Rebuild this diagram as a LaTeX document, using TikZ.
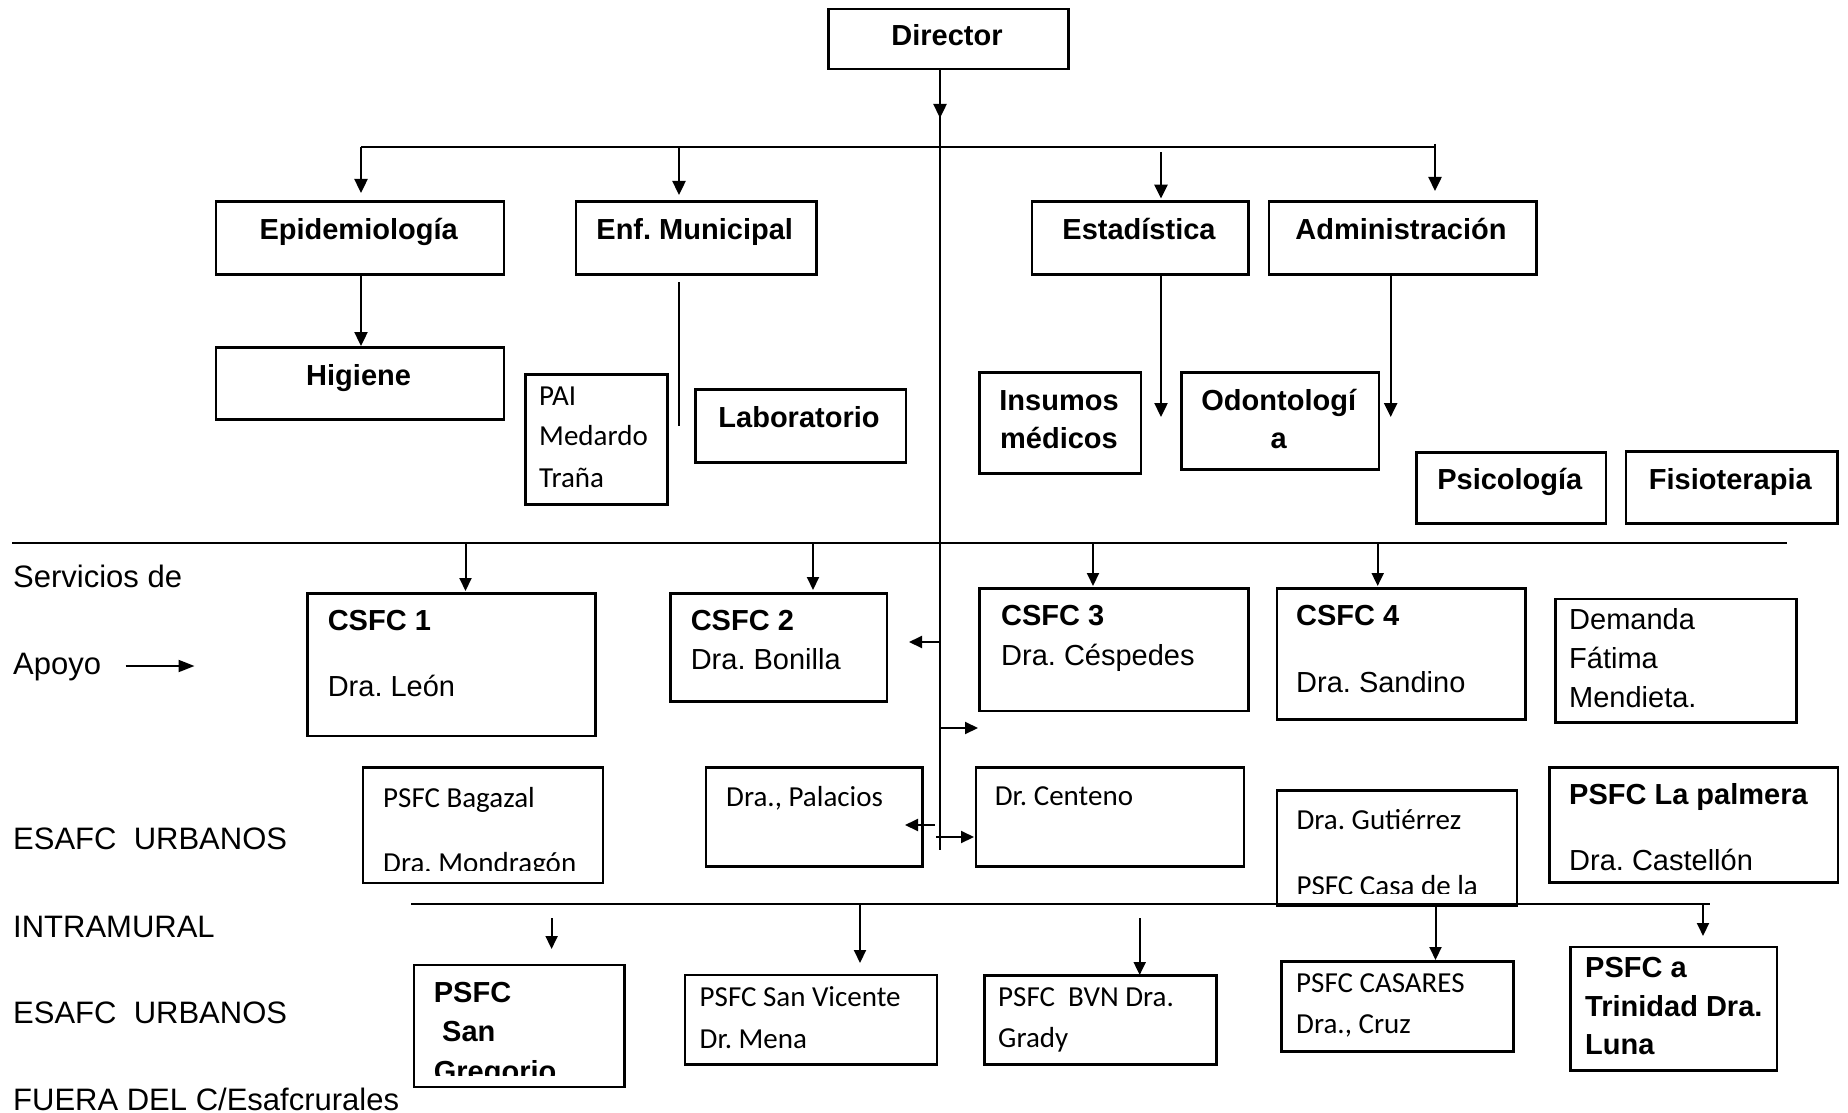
\documentclass[tikz,border=0pt]{standalone}
\usepackage{fontspec}
\setmainfont{Liberation Sans}
\newfontfamily\calibfont{Carlito}
\usetikzlibrary{arrows.meta}
\frenchspacing
\newcommand\mybox[5]{\node[box,minimum width={#4pt-#2pt},minimum height={#5pt-#3pt}] (#1) at (#2,#3) {};}
\begin{document}
\begin{tikzpicture}[x=1pt,y=-1pt,
  box/.style={draw, line width=2.5pt, inner sep=0pt, anchor=north west},
  t/.style={inner sep=0pt, anchor=base west, font=\fontsize{29}{34}\selectfont},
  tb/.style={inner sep=0pt, anchor=base west, font=\fontsize{29}{34}\selectfont\bfseries},
  tcb/.style={inner sep=0pt, anchor=base, font=\fontsize{29}{34}\selectfont\bfseries},
  tk/.style={inner sep=0pt, anchor=base west, font=\fontsize{29}{34}\selectfont\calibfont},
  lab/.style={inner sep=0pt, anchor=base west, font=\fontsize{31}{36}\selectfont},
  ln/.style={line width=2.4pt},
  arr/.style={line width=2.4pt, -{Triangle[length=14pt,width=13pt]}},
  tarr/.style={line width=2pt, -{Triangle[length=13pt,width=12pt]}}]
\useasboundingbox[fill=white] (0,0) rectangle (1848,1113);

% boxes
\mybox{director}{827}{8}{1067}{68}
\mybox{epi}{214.5}{200}{502.7}{273}
\mybox{enf}{574.5}{200}{815}{273}
\mybox{esta}{1030.7}{200}{1247}{273}
\mybox{admin}{1267.5}{200}{1535}{273}
\mybox{hig}{214.5}{346}{502.7}{418}
\mybox{pai}{524}{373}{666}{503}
\mybox{lab}{694}{388}{904.5}{461}
\mybox{ins}{978}{371}{1139.7}{472}
\mybox{odo}{1180}{371}{1377.7}{468}
\mybox{psi}{1415}{451}{1604.6}{522}
\mybox{fis}{1624.6}{450}{1836}{522}
\mybox{csfcA}{306}{592}{594}{734.5}
\mybox{csfcB}{669}{592}{885.7}{700}
\mybox{csfcC}{978}{587}{1247}{709.6}
\mybox{csfcD}{1275.8}{587}{1524}{718}
\mybox{dem}{1554}{597.7}{1795}{721}
\mybox{bag}{361.8}{766}{601.6}{881.7}
\mybox{pala}{704.8}{766}{921}{865}
\mybox{cen}{974.7}{766}{1242.8}{865}
\mybox{gut}{1275.8}{789}{1515.6}{904}
\mybox{palm}{1548}{766}{1836.8}{881}
\mybox{sg}{412.5}{963.6}{623}{1085.7}
\mybox{sv}{683.6}{973.8}{935.8}{1063.4}
\mybox{bvn}{983}{974}{1215}{1063}
\mybox{cas}{1280}{960}{1512}{1050}
\mybox{tri}{1569}{945.7}{1775.5}{1069}

% texts
\node[tcb] (tdir) at (947,46) {Director};
\node[tcb] (tepi) at (358.6,239) {Epidemiología};
\node[tcb] (tenf) at (694.7,239) {Enf. Municipal};
\node[tcb] (test) at (1139,239) {Estadística};
\node[tcb] (tadm) at (1401,239) {Administración};
\node[tcb] (thig) at (358.6,385) {Higiene};
\node[tcb] (tlab) at (799,427) {Laboratorio};
\node[tk] (tpaiA) at (539,405) {PAI};
\node[tk] (tpaiB) at (539,445.5) {Medardo};
\node[tk] (tpaiC) at (539,487) {Traña};
\node[tcb] (tinsA) at (1059,410) {Insumos};
\node[tcb] (tinsB) at (1059,448) {médicos};
\node[tcb] (todoA) at (1278.7,410) {Odontologí};
\node[tcb] (todoB) at (1278.7,448) {a};
\node[tcb] (tpsi) at (1509.8,489) {Psicología};
\node[tcb] (tfis) at (1730.3,489) {Fisioterapia};

\node[lab] (lA) at (13,587) {Servicios de};
\node[lab] (lB) at (13,674) {Apoyo};
\node[lab] (lC) at (13,849) {ESAFC\ \ URBANOS};
\node[lab] (lD) at (13,937) {INTRAMURAL};
\node[lab] (lE) at (13,1023) {ESAFC\ \ URBANOS};
\node[lab] (lF) at (13,1110) {FUERA DEL C/Esafcrurales};

\node[tb] (tcA1) at (327.6,630) {CSFC 1};
\node[t]  (tcA2) at (327.6,696) {Dra. León};
\node[tb] (tcB1) at (690.6,630) {CSFC 2};
\node[t]  (tcB2) at (690.6,669) {Dra. Bonilla};
\node[tb] (tcC1) at (1001,625) {CSFC 3};
\node[t]  (tcC2) at (1001,665) {Dra. Céspedes};
\node[tb] (tcD1) at (1296,625) {CSFC 4};
\node[t]  (tcD2) at (1296,692) {Dra. Sandino};
\node[t]  (tdemA) at (1569,629) {Demanda};
\node[t]  (tdemB) at (1569,668) {Fátima};
\node[t]  (tdemC) at (1569,707) {Mendieta.};

\node[tk] (tbagA) at (383,807) {PSFC Bagazal};
\begin{scope}
\clip (361,766) rectangle (602,870.5);
\node[tk] (tbagB) at (383,872) {Dra. Mondragón};
\end{scope}
\node[tk] (tpal) at (726,806) {Dra., Palacios};
\node[tk] (tcen) at (994.7,805) {Dr. Centeno};
\node[tk] (tgutA) at (1296.4,829) {Dra. Gutiérrez};
\begin{scope}
\clip (1275,789) rectangle (1516,893.5);
\node[tk] (tgutB) at (1296.4,895) {PSFC Casa de la};
\end{scope}
\node[tb] (tpalmA) at (1569,804) {PSFC La palmera};
\node[t]  (tpalmB) at (1569,870) {Dra. Castellón};

\node[tb] (tsgA) at (433.7,1002) {PSFC};
\node[tb] (tsgB) at (442,1041) {San};
\begin{scope}
\clip (412,963) rectangle (623,1075);
\node[tb] (tsgC) at (433.7,1081) {Gregorio};
\end{scope}
\node[tk] (tsvA) at (699.5,1006) {PSFC San Vicente};
\node[tk] (tsvB) at (699.5,1048) {Dr. Mena};
\node[tk] (tbvnA) at (998,1006) {PSFC\ \ BVN Dra.};
\node[tk] (tbvnB) at (998,1047) {Grady};
\node[tk] (tcasA) at (1296,992) {PSFC CASARES};
\node[tk] (tcasB) at (1296,1033) {Dra., Cruz};
\node[tb] (ttriA) at (1585,977) {PSFC a};
\node[tb] (ttriB) at (1585,1016) {Trinidad Dra.};
\node[tb] (ttriC) at (1585,1054) {Luna};

% coordinates
\coordinate (spE) at (940,850);
\coordinate (spA) at (940,118);
\coordinate (busL) at (361,147);
\coordinate (busR) at (1435,147);
\coordinate (aEnf) at (679,195);
\coordinate (aEstS) at (1161,152.5);
\coordinate (aEstE) at (1161,198.6);
\coordinate (aAdmS) at (1435,144);
\coordinate (aAdmE) at (1435,191);
\coordinate (aEpi) at (361,193);
\coordinate (enfS) at (679,282);
\coordinate (enfE) at (679,426);
\coordinate (estD) at (1161,417);
\coordinate (admD) at (1390.7,417);
\coordinate (midL) at (12,543);
\coordinate (midR) at (1787,543);
\coordinate (m1) at (465.5,591);
\coordinate (m2) at (813,590);
\coordinate (m3) at (1093,586);
\coordinate (m4) at (1377.7,586);
\coordinate (apS) at (125.5,666);
\coordinate (apE) at (194.5,666);
\coordinate (s1S) at (940,642);
\coordinate (s1E) at (909,642);
\coordinate (s2S) at (940,728);
\coordinate (s2E) at (978,728);
\coordinate (s3S) at (935,825);
\coordinate (s3E) at (905,825);
\coordinate (s4S) at (936,837);
\coordinate (s4E) at (974,837);
\coordinate (lowL) at (411,904);
\coordinate (lowR) at (1709.5,904);
\coordinate (k1S) at (551.6,918);
\coordinate (k1E) at (551.6,949);
\coordinate (k2E) at (860,963);
\coordinate (k3S) at (1139.7,918);
\coordinate (k3E) at (1139.7,975);
\coordinate (k4E) at (1435.5,960);
\coordinate (k5E) at (1703,936);

% connectors
\draw[ln] (director.south -| spE) -- (spE);
\draw[arr] (director.south -| spE) -- (spA);
\draw[ln] (busL) -- (busR);
\draw[arr] (busL) -- (aEpi);
\draw[arr] (aEnf |- busL) -- (aEnf);
\draw[arr] (aEstS) -- (aEstE);
\draw[arr] (aAdmS) -- (aAdmE);
\draw[arr] (epi.south -| busL) -- (hig.north -| busL);
\draw[ln] (enfS) -- (enfE);
\draw[arr] (esta.south -| estD) -- (estD);
\draw[arr] (admin.south -| admD) -- (admD);
\draw[ln] (midL) -- (midR);
\draw[tarr] (m1 |- midL) -- (m1);
\draw[tarr] (m2 |- midL) -- (m2);
\draw[tarr] (m3 |- midL) -- (m3);
\draw[tarr] (m4 |- midL) -- (m4);
\draw[line width=2pt, -{Triangle[length=16pt,width=12pt]}] (apS) -- (apE);
\draw[tarr] (s1S) -- (s1E);
\draw[tarr] (s2S) -- (s2E);
\draw[tarr] (s3S) -- (s3E);
\draw[tarr] (s4S) -- (s4E);
\draw[ln] (lowL) -- (lowR);
\draw[tarr] (k1S) -- (k1E);
\draw[tarr] (k2E |- lowL) -- (k2E);
\draw[tarr] (k3S) -- (k3E);
\draw[tarr] (k4E |- lowL) -- (k4E);
\draw[tarr] (k5E |- lowL) -- (k5E);
\end{tikzpicture}
\end{document}
